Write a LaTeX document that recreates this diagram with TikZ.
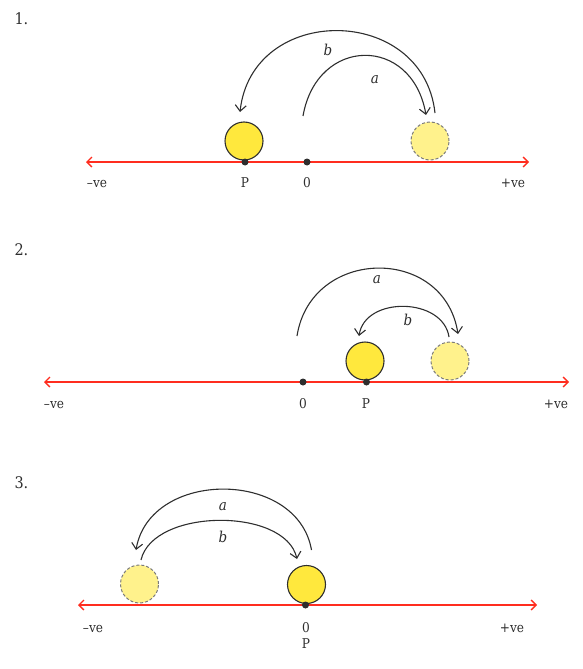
\documentclass[tikz,border=0pt]{standalone}
\usepackage{fontspec}
\setmainfont{DejaVu Serif Condensed}
\usetikzlibrary{arrows.meta}
\definecolor{axisred}{HTML}{FF2D1F}
\definecolor{ink}{HTML}{2E2E2E}
\definecolor{sun}{HTML}{FFE83D}
\definecolor{palesun}{HTML}{FFF28C}
\definecolor{ghostedge}{HTML}{7A7A7A}
\begin{document}
\begin{tikzpicture}[x=1pt,y=-1pt,
  axis/.style={draw=axisred, line width=1.3pt,
    {Straight Barb[length=5pt,width=10pt]}-{Straight Barb[length=5pt,width=10pt]}},
  ball/.style={circle, draw=ink, line width=1.1pt, fill=sun, minimum size=38pt, inner sep=0pt},
  ghost/.style={circle, draw=ghostedge, dash pattern=on 3pt off 2pt, line width=1pt, fill=palesun, minimum size=38pt, inner sep=0pt},
  dotmark/.style={circle, fill=ink, minimum size=7pt, inner sep=0pt},
  jump/.style={draw=ink, line width=1.1pt, -{Straight Barb[length=6pt,width=11pt]}},
  lbl/.style={anchor=base, text=ink, font=\fontsize{13.5}{15}\selectfont},
  var/.style={anchor=base, text=ink, font=\fontsize{15}{17}\selectfont\itshape},
  num/.style={anchor=base west, text=ink, font=\fontsize{16}{18}\selectfont}]
\useasboundingbox (0,0) rectangle (583,669);

% ---------- Panel 1 ----------
\node[num] (n1) at (11,25) {1.};
\coordinate (L1) at (86,162);
\coordinate (R1) at (529,162);
\draw[axis] (L1) -- (R1);
\node[ball] (b1) at (244,141) {};
\node[ghost] (g1) at (430,141) {};
\node[dotmark] (p1) at (245,162) {};
\node[dotmark] (z1) at (307,162) {};
\node[lbl] (neg1) at (97,187) {–ve};
\node[lbl] (pl1) at (245,187) {P};
\node[lbl] (zl1) at (307,187) {0};
\node[lbl] (pos1) at (513,187) {+ve};
\coordinate (a1s) at (303,116);
\coordinate (a1e) at (426,115);
\draw[jump] (a1s) .. controls +(14,-80) and +(-14,-80) .. (a1e);
\coordinate (b1s) at (435,113);
\coordinate (b1e) at (240,112);
\draw[jump] (b1s) .. controls +(-12,-109) and +(12,-109) .. (b1e);
\node[var] (va1) at (375,84) {a};
\node[var] (vb1) at (328,56) {b};

% ---------- Panel 2 ----------
\node[num] (n2) at (11,255) {2.};
\coordinate (L2) at (44,382);
\coordinate (R2) at (569,382);
\draw[axis] (L2) -- (R2);
\node[ball] (b2) at (365,361) {};
\node[ghost] (g2) at (450,361) {};
\node[dotmark] (z2) at (303,382) {};
\node[dotmark] (p2) at (366.5,382) {};
\node[lbl] (neg2) at (54,408) {–ve};
\node[lbl] (zl2) at (303,408) {0};
\node[lbl] (pl2) at (366,408) {P};
\node[lbl] (pos2) at (556,408) {+ve};
\coordinate (a2s) at (297,336);
\coordinate (a2e) at (458,334);
\draw[jump] (a2s) .. controls +(14,-89) and +(-14,-89) .. (a2e);
\coordinate (b2s) at (449,337);
\coordinate (b2e) at (359,336);
\draw[jump] (b2s) .. controls +(-6,-40) and +(6,-40) .. (b2e);
\node[var] (va2) at (377,283) {a};
\node[var] (vb2) at (408,325) {b};

% ---------- Panel 3 ----------
\node[num] (n3) at (11,488) {3.};
\coordinate (L3) at (78,605);
\coordinate (R3) at (537,605);
\draw[axis] (L3) -- (R3);
\node[ghost] (g3) at (139.5,584) {};
\node[ball] (b3) at (306.5,584.5) {};
\node[dotmark] (z3) at (305.5,605) {};
\node[lbl] (neg3) at (93,632) {–ve};
\node[lbl] (zl3) at (306,632) {0};
\node[lbl] (pl3) at (306,648) {P};
\node[lbl] (pos3) at (512,632) {+ve};
\coordinate (a3s) at (311.5,550);
\coordinate (a3e) at (136,550);
\draw[jump] (a3s) .. controls +(-14,-81) and +(14,-81) .. (a3e);
\coordinate (b3s) at (141,560);
\coordinate (b3e) at (297,559);
\draw[jump] (b3s) .. controls +(12,-52) and +(-12,-52) .. (b3e);
\node[var] (va3) at (223,510) {a};
\node[var] (vb3) at (223,542) {b};
\end{tikzpicture}
\end{document}
